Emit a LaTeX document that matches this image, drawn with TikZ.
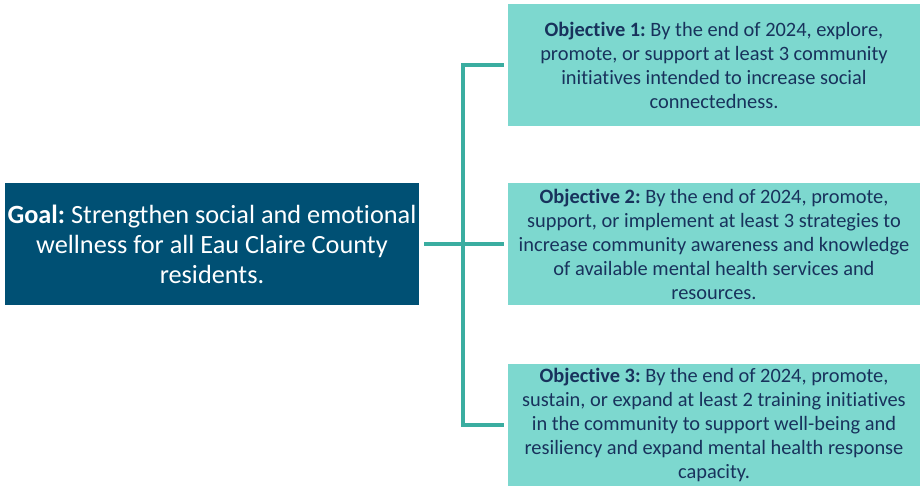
\documentclass[tikz,border=0pt]{standalone}
\usepackage{fontspec}
\setmainfont{Carlito}[Ligatures=NoCommon]
\usepackage{tikz}
\frenchspacing

\definecolor{goalblue}{RGB}{0,80,116}
\definecolor{objteal}{RGB}{125,216,207}
\definecolor{linkteal}{RGB}{58,173,160}
\definecolor{objtext}{RGB}{24,50,92}

\begin{document}
\begin{tikzpicture}[x=1pt,y=-1pt,
  goal/.style={fill=goalblue, text=white, minimum width=414pt, minimum height=122pt,
    align=center, inner sep=0pt, outer sep=0pt, font=\fontsize{26.3}{30}\selectfont},
  objective/.style={fill=objteal, text=objtext, minimum width=412pt, minimum height=122pt,
    align=center, inner sep=0pt, outer sep=0pt, font=\fontsize{20.4}{24}\selectfont},
  link/.style={draw=linkteal, line width=4.5pt, line join=miter}]
\useasboundingbox (0,0) rectangle (922,487);

\node[goal] (goal) at (212,244) {\textbf{Goal:} Strengthen social and emotional\\
  wellness for all Eau Claire County\\ residents.};

\node[objective] (obj1) at (714,65) {\textbf{Objective 1:} By the end of 2024, explore,\\
  promote, or support at least 3 community\\ initiatives intended to increase social\\
  connectedness.};
\node[objective] (obj2) at (714,244) {\textbf{Objective 2:} By the end of 2024, promote,\\
  support, or implement at least 3 strategies to\\ increase community awareness and knowledge\\
  of available mental health services and\\ resources.};
\node[objective] (obj3) at (714,425) {\textbf{Objective 3:} By the end of 2024, promote,\\
  sustain, or expand at least 2 training initiatives\\ in the community to support well-being and\\
  resiliency and expand mental health response\\ capacity.};

% bracket joining the goal to its objectives
\coordinate (spine) at (463,244);
\draw[link] ([xshift=5pt]goal.east) -- ([xshift=-4pt]obj2.west);
\draw[link] ([xshift=-4pt]obj1.west) -- (obj1.west -| spine) -- (obj3.west -| spine)
  -- ([xshift=-4pt]obj3.west);
\end{tikzpicture}
\end{document}
